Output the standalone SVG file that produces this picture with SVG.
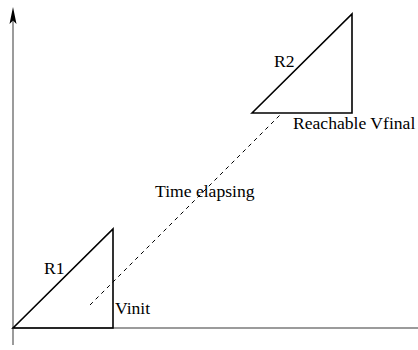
<svg xmlns="http://www.w3.org/2000/svg" width="418" height="350" viewBox="0 0 418 350">
<style>
.axis{stroke:#7a7a7a;stroke-width:1.5;fill:none}
.tri{stroke:#000;stroke-width:1.6;fill:none;stroke-linejoin:miter}
.dash{stroke:#000;stroke-width:1;stroke-dasharray:4 4;fill:none}
.lbl{font-family:'Times New Roman','Liberation Serif','DejaVu Serif',serif;font-size:17.6px;fill:#000}
</style>
<rect width="418" height="350" fill="#fff"/>
<g id="axes">
<line class="axis" x1="13" y1="345" x2="13" y2="14"/>
<line class="axis" x1="12" y1="328" x2="418" y2="328"/>
<polygon points="13,7 9.5,24 13,20.5 16.5,24" fill="#000"/>
</g>
<g id="connectors">
<line class="dash" x1="90" y1="305" x2="282" y2="113"/>
</g>
<g id="R1">
<polygon class="tri" points="13,328 113,229 113,328"/>
<text class="lbl" x="44" y="274">R1</text>
</g>
<g id="Vinit">
<text class="lbl" x="115" y="314">Vinit</text>
</g>
<g id="R2">
<polygon class="tri" points="252,113 352,14 352,113"/>
<text class="lbl" x="274" y="67">R2</text>
</g>
<g id="Vfinal">
<text class="lbl" x="293" y="129">Reachable Vfinal</text>
</g>
<g id="time">
<text class="lbl" x="155" y="197">Time elapsing</text>
</g>
</svg>
